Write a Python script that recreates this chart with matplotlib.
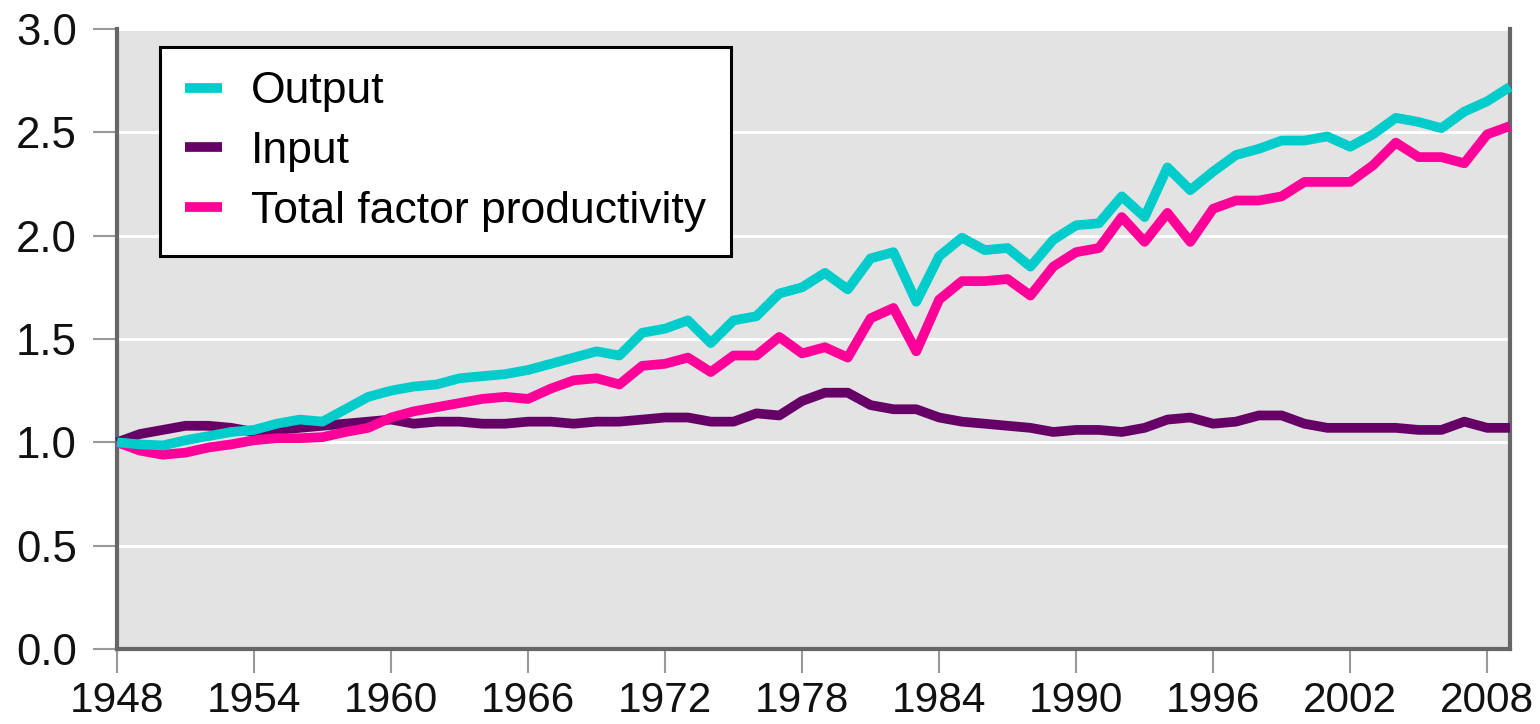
import matplotlib
matplotlib.use("Agg")
import matplotlib.pyplot as plt

years = list(range(1948, 2010))

output = [1.00, 0.99, 0.985, 1.01, 1.03, 1.05, 1.06, 1.09, 1.11, 1.10,
          1.16, 1.22, 1.25, 1.27, 1.28, 1.31, 1.32, 1.33, 1.35, 1.38,
          1.41, 1.44, 1.42, 1.53, 1.55, 1.59, 1.48, 1.59, 1.61, 1.72,
          1.75, 1.82, 1.74, 1.89, 1.92, 1.68, 1.90, 1.99, 1.93, 1.94,
          1.85, 1.98, 2.05, 2.06, 2.19, 2.09, 2.33, 2.22, 2.31, 2.39,
          2.42, 2.46, 2.46, 2.48, 2.43, 2.49, 2.57, 2.55, 2.52, 2.60,
          2.65, 2.72]

inputs = [1.00, 1.04, 1.06, 1.08, 1.08, 1.07, 1.05, 1.06, 1.07, 1.08,
          1.09, 1.10, 1.11, 1.09, 1.10, 1.10, 1.09, 1.09, 1.10, 1.10,
          1.09, 1.10, 1.10, 1.11, 1.12, 1.12, 1.10, 1.10, 1.14, 1.13,
          1.20, 1.24, 1.24, 1.18, 1.16, 1.16, 1.12, 1.10, 1.09, 1.08,
          1.07, 1.05, 1.06, 1.06, 1.05, 1.07, 1.11, 1.12, 1.09, 1.10,
          1.13, 1.13, 1.09, 1.07, 1.07, 1.07, 1.07, 1.06, 1.06, 1.10,
          1.07, 1.07]

tfp = [1.00, 0.96, 0.94, 0.95, 0.975, 0.99, 1.01, 1.02, 1.02, 1.025,
       1.05, 1.07, 1.12, 1.15, 1.17, 1.19, 1.21, 1.22, 1.21, 1.26,
       1.30, 1.31, 1.28, 1.37, 1.38, 1.41, 1.34, 1.42, 1.42, 1.51,
       1.43, 1.46, 1.41, 1.60, 1.65, 1.44, 1.69, 1.78, 1.78, 1.79,
       1.71, 1.85, 1.92, 1.94, 2.09, 1.97, 2.11, 1.97, 2.13, 2.17,
       2.17, 2.19, 2.26, 2.26, 2.26, 2.34, 2.45, 2.38, 2.38, 2.35,
       2.49, 2.53]

xticks = list(range(1948, 2009, 6))
yticks = [0.0, 0.5, 1.0, 1.5, 2.0, 2.5, 3.0]

plt.rcParams['font.family'] = ['Liberation Sans', 'DejaVu Sans']

fig = plt.figure(figsize=(15.4, 7.24), dpi=100)
ax = fig.add_axes([0.076, 0.1036, 0.9045, 0.8564])
ax.set_facecolor('#e3e3e3')

# line style shared by the three series
style = dict(lw=7, clip_on=False, solid_joinstyle='round', solid_capstyle='butt')
l_in, = ax.plot(years, inputs, color='#660066', zorder=3, **style)
l_tfp, = ax.plot(years, tfp, color='#ff0099', zorder=4, **style)
l_out, = ax.plot(years, output, color='#00cccc', zorder=5, **style)

ax.set_xlim(1948, 2009)
ax.set_ylim(0, 3.0)
ax.set_xticks(xticks)
ax.set_yticks(yticks)
ax.set_yticklabels([f"{v:.1f}" for v in yticks])

ax.grid(axis='y', color='white', lw=2.2)
ax.set_axisbelow(True)

for side in ['left', 'bottom', 'right']:
    ax.spines[side].set_color('#666666')
    ax.spines[side].set_linewidth(3)
ax.spines['top'].set_visible(False)

ax.tick_params(axis='both', direction='out', length=17, width=1.5,
               color='#999999', labelsize=31.5, labelcolor='#111111')
ax.tick_params(axis='y', pad=12)
ax.tick_params(axis='x', pad=6, labelsize=30.5)

leg = ax.legend([l_out, l_in, l_tfp], ['Output', 'Input', 'Total factor productivity'],
                loc='upper left', bbox_to_anchor=(0.031, 0.971), borderaxespad=0,
                fontsize=32, handlelength=0.85, handletextpad=0.65,
                labelspacing=0.42, borderpad=0.55, fancybox=False,
                framealpha=1, edgecolor='black')
leg.get_frame().set_linewidth(2.2)
leg.set_zorder(10)

fig.savefig('out.png', dpi=100)
